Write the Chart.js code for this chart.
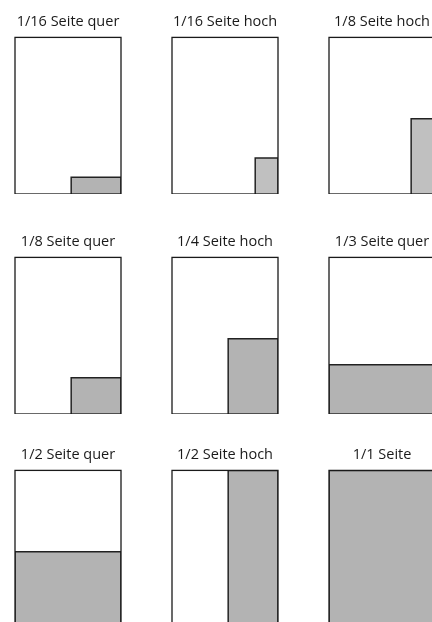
<!DOCTYPE html>
<html>
<head>
<meta charset="utf-8">
<script src="https://cdn.jsdelivr.net/npm/chart.js@4"></script>
<style>
  html, body { margin: 0; padding: 0; background: #fff; }
  body { width: 432px; height: 622px; overflow: hidden; position: relative; }
  canvas { position: absolute; }
</style>
</head>
<body>
<script>
// ad formats, read row by row
const labels = ["1/16 Seite quer", "1/16 Seite hoch", "1/8 Seite hoch",
                "1/8 Seite quer", "1/4 Seite hoch", "1/3 Seite quer",
                "1/2 Seite quer", "1/2 Seite hoch", "1/1 Seite"];
// share of page width / height covered by the ad (anchored bottom right)
const adWidths  = [0.47, 0.215, 0.225, 0.47, 0.47, 1, 1, 0.47, 1];
const adHeights = [0.107, 0.23, 0.48, 0.232, 0.48, 0.314, 0.48, 1, 1];

const fillColors = ["#b3b3b3", "#c0c0c0", "#c0c0c0", "#b3b3b3", "#b3b3b3",
                    "#b3b3b3", "#b3b3b3", "#b3b3b3", "#b3b3b3"];

const colLeft = [14, 171, 328];
const rowTop = [8, 228, 441];

const pageBorder = {
  id: "pageBorder",
  afterDraw(chart) {
    const a = chart.chartArea;
    const ctx = chart.ctx;
    ctx.save();
    ctx.strokeStyle = "#1a1a1a";
    ctx.lineWidth = 1.3;
    ctx.strokeRect(a.left, a.top, a.right - a.left, a.bottom - a.top);
    ctx.restore();
  }
};

labels.forEach((label, i) => {
  const cv = document.createElement("canvas");
  cv.width = 108;
  cv.height = 186;
  cv.style.left = colLeft[i % 3] + "px";
  cv.style.top = rowTop[Math.floor(i / 3)] + "px";
  document.body.appendChild(cv);

  const w = adWidths[i];
  const h = adHeights[i];

  new Chart(cv, {
    type: "line",
    data: {
      datasets: [{
        data: [
          { x: 1 - w, y: 0 },
          { x: 1 - w, y: h },
          { x: 1, y: h },
          { x: 1, y: 0 }
        ],
        borderColor: "#222",
        borderWidth: 1.5,
        backgroundColor: fillColors[i],
        fill: "origin",
        pointRadius: 0,
        tension: 0
      }]
    },
    options: {
      responsive: false,
      animation: false,
      layout: { padding: { left: 1, right: 1, top: 0, bottom: 0 } },
      plugins: {
        legend: { display: false },
        tooltip: { enabled: false },
        title: {
          display: true,
          text: label,
          color: "#1a1a1a",
          font: { family: "Open Sans", size: 14.5, weight: "normal", lineHeight: 1.2 },
          padding: { top: 5, bottom: 7 }
        }
      },
      scales: {
        x: { type: "linear", min: 0, max: 1, display: false },
        y: { type: "linear", min: 0, max: 1, display: false }
      }
    },
    plugins: [pageBorder]
  });
});
</script>
</body>
</html>
